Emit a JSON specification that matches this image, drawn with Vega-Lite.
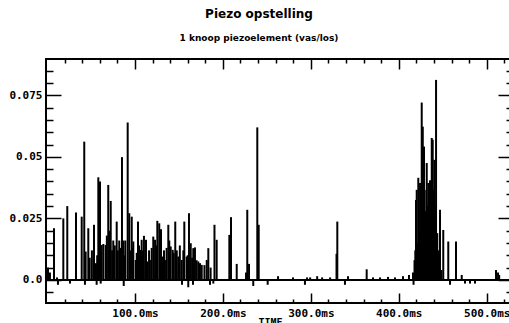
{
  "$schema": "https://vega.github.io/schema/vega-lite/v6.json",
  "width": 464,
  "height": 244,
  "autosize": "none",
  "padding": {"left": 46, "top": 59, "right": 0, "bottom": 20},
  "background": "white",
  "view": {"stroke": "black", "strokeWidth": 2},
  "title": {
    "text": "Piezo opstelling",
    "subtitle": "1 knoop piezoelement (vas/los)",
    "anchor": "middle",
    "dx": -19,
    "offset": 14,
    "font": "DejaVu Sans",
    "fontSize": 12,
    "fontWeight": "bold",
    "color": "black",
    "subtitleFont": "DejaVu Sans",
    "subtitleFontSize": 9,
    "subtitleFontWeight": "bold",
    "subtitleColor": "black",
    "subtitlePadding": 13
  },
  "config": {
    "axis": {
      "domain": false,
      "grid": false,
      "tickColor": "black",
      "tickWidth": 1.5,
      "labelColor": "black",
      "labelFont": "DejaVu Sans Mono",
      "labelFontWeight": "bold",
      "labelFontSize": 11,
      "titleColor": "black",
      "titleFont": "DejaVu Sans Mono",
      "titleFontWeight": "bold",
      "titleFontSize": 10
    }
  },
  "data": {
    "values": [
      {"time": 1.1, "amp": 0.005}, {"time": 3.3, "amp": 0.003}, {"time": 7.9, "amp": 0.021}, {"time": 11.3, "amp": 0.001},
      {"time": 12.4, "amp": -0.002}, {"time": 18.5, "amp": 0.025}, {"time": 23.0, "amp": 0.030}, {"time": 26.1, "amp": -0.0015},
      {"time": 32.9, "amp": 0.0274}, {"time": 39.4, "amp": 0.0257}, {"time": 42.3, "amp": 0.0562}, {"time": 43.1, "amp": -0.002},
      {"time": 43.9, "amp": 0.0115}, {"time": 46.9, "amp": 0.021}, {"time": 48.5, "amp": 0.009}, {"time": 51.0, "amp": 0.012},
      {"time": 53.4, "amp": 0.0224}, {"time": 55.6, "amp": 0.0068}, {"time": 56.4, "amp": -0.002}, {"time": 57.0, "amp": 0.010},
      {"time": 58.3, "amp": 0.0417}, {"time": 60.2, "amp": 0.040}, {"time": 61.0, "amp": -0.0015}, {"time": 62.1, "amp": 0.0142},
      {"time": 64.0, "amp": 0.0146}, {"time": 66.7, "amp": 0.0142}, {"time": 68.0, "amp": 0.018}, {"time": 69.6, "amp": 0.0386},
      {"time": 71.0, "amp": 0.020}, {"time": 72.4, "amp": 0.0321}, {"time": 74.0, "amp": 0.012}, {"time": 75.3, "amp": 0.016},
      {"time": 77.0, "amp": 0.014}, {"time": 79.2, "amp": 0.0237}, {"time": 80.5, "amp": 0.012}, {"time": 82.1, "amp": 0.016},
      {"time": 84.0, "amp": 0.013}, {"time": 85.2, "amp": 0.0499}, {"time": 86.7, "amp": 0.016}, {"time": 87.2, "amp": -0.0025},
      {"time": 88.0, "amp": 0.010}, {"time": 89.0, "amp": 0.016}, {"time": 91.7, "amp": 0.064}, {"time": 93.5, "amp": 0.0271},
      {"time": 95.0, "amp": 0.012}, {"time": 96.3, "amp": 0.0257}, {"time": 97.5, "amp": 0.013}, {"time": 98.1, "amp": 0.0156},
      {"time": 100.8, "amp": 0.0081}, {"time": 102.0, "amp": 0.011}, {"time": 103.4, "amp": 0.0237}, {"time": 104.6, "amp": 0.014},
      {"time": 105.7, "amp": 0.0122}, {"time": 107.6, "amp": 0.0163}, {"time": 109.0, "amp": 0.012}, {"time": 110.2, "amp": 0.0179},
      {"time": 112.5, "amp": 0.0163}, {"time": 114.0, "amp": 0.0075}, {"time": 116.0, "amp": 0.012}, {"time": 117.0, "amp": 0.0081},
      {"time": 119.0, "amp": 0.013}, {"time": 120.8, "amp": 0.0176}, {"time": 122.8, "amp": 0.0163}, {"time": 124.0, "amp": 0.014},
      {"time": 125.4, "amp": 0.024}, {"time": 127.6, "amp": 0.023}, {"time": 129.6, "amp": 0.0206}, {"time": 131.5, "amp": 0.0095},
      {"time": 133.0, "amp": 0.012}, {"time": 134.1, "amp": 0.0081}, {"time": 136.0, "amp": 0.013}, {"time": 137.9, "amp": 0.0224},
      {"time": 139.0, "amp": 0.016}, {"time": 140.6, "amp": 0.0136}, {"time": 142.9, "amp": 0.0122}, {"time": 144.0, "amp": 0.011},
      {"time": 145.8, "amp": 0.0237}, {"time": 147.5, "amp": 0.012}, {"time": 149.3, "amp": 0.0095}, {"time": 151.0, "amp": 0.014},
      {"time": 153.1, "amp": 0.0081}, {"time": 153.5, "amp": -0.002}, {"time": 155.0, "amp": 0.012}, {"time": 156.1, "amp": 0.0237},
      {"time": 158.8, "amp": 0.0095}, {"time": 160.0, "amp": 0.010}, {"time": 160.6, "amp": -0.003}, {"time": 161.4, "amp": 0.0271},
      {"time": 163.4, "amp": 0.0149}, {"time": 165.0, "amp": 0.009}, {"time": 166.0, "amp": -0.002}, {"time": 166.3, "amp": 0.0129},
      {"time": 168.2, "amp": 0.0132}, {"time": 170.0, "amp": 0.008}, {"time": 172.0, "amp": 0.0075}, {"time": 173.9, "amp": 0.0068},
      {"time": 175.9, "amp": 0.0061}, {"time": 179.0, "amp": 0.006}, {"time": 181.6, "amp": 0.0081}, {"time": 183.4, "amp": 0.0129},
      {"time": 185.3, "amp": -0.002}, {"time": 186.0, "amp": 0.005}, {"time": 189.1, "amp": -0.0015}, {"time": 190.4, "amp": 0.0224},
      {"time": 192.9, "amp": 0.0163}, {"time": 207.3, "amp": 0.0183}, {"time": 209.2, "amp": 0.0255}, {"time": 215.7, "amp": 0.0065},
      {"time": 226.3, "amp": 0.003}, {"time": 227.7, "amp": 0.0285}, {"time": 229.7, "amp": 0.0065}, {"time": 234.5, "amp": -0.0025},
      {"time": 239.1, "amp": 0.062}, {"time": 240.7, "amp": 0.0224}, {"time": 250.9, "amp": -0.002}, {"time": 262.7, "amp": 0.0015},
      {"time": 279.7, "amp": 0.001}, {"time": 293.3, "amp": -0.002}, {"time": 295.7, "amp": 0.001}, {"time": 299.2, "amp": 0.001},
      {"time": 307.2, "amp": 0.0015}, {"time": 312.8, "amp": 0.001}, {"time": 321.9, "amp": 0.001}, {"time": 329.2, "amp": 0.0106},
      {"time": 330.1, "amp": 0.0237}, {"time": 338.8, "amp": -0.002}, {"time": 342.3, "amp": 0.0015}, {"time": 363.5, "amp": 0.0043},
      {"time": 370.7, "amp": 0.001}, {"time": 378.7, "amp": 0.001}, {"time": 387.8, "amp": 0.0012}, {"time": 395.7, "amp": 0.001},
      {"time": 404.8, "amp": 0.0015}, {"time": 411.6, "amp": 0.002}, {"time": 416.2, "amp": 0.003}, {"time": 416.8, "amp": -0.002},
      {"time": 417.9, "amp": 0.008}, {"time": 418.8, "amp": 0.012}, {"time": 419.6, "amp": 0.0325}, {"time": 420.4, "amp": 0.0366},
      {"time": 421.3, "amp": 0.015}, {"time": 422.2, "amp": 0.0415}, {"time": 423.4, "amp": 0.020}, {"time": 424.2, "amp": 0.0394},
      {"time": 425.1, "amp": 0.030}, {"time": 426.1, "amp": 0.0721}, {"time": 427.3, "amp": 0.0623}, {"time": 428.0, "amp": 0.025},
      {"time": 428.7, "amp": 0.0542}, {"time": 429.5, "amp": 0.0366}, {"time": 430.2, "amp": 0.020}, {"time": 431.0, "amp": 0.028},
      {"time": 431.8, "amp": 0.0475}, {"time": 432.7, "amp": 0.030}, {"time": 433.6, "amp": 0.0394}, {"time": 434.6, "amp": 0.025},
      {"time": 435.5, "amp": 0.0405}, {"time": 436.4, "amp": 0.033}, {"time": 437.5, "amp": 0.0577}, {"time": 438.6, "amp": 0.057},
      {"time": 439.3, "amp": 0.0366}, {"time": 440.5, "amp": 0.0488}, {"time": 441.2, "amp": 0.030}, {"time": 442.4, "amp": 0.0813},
      {"time": 443.8, "amp": 0.019}, {"time": 445.0, "amp": 0.012}, {"time": 446.9, "amp": 0.0285}, {"time": 448.5, "amp": 0.004},
      {"time": 450.6, "amp": 0.0203}, {"time": 456.3, "amp": 0.0156}, {"time": 458.3, "amp": -0.002}, {"time": 465.1, "amp": 0.0156},
      {"time": 471.6, "amp": 0.002}, {"time": 475.3, "amp": -0.0015}, {"time": 481.0, "amp": -0.0015}, {"time": 486.7, "amp": -0.0015},
      {"time": 510.6, "amp": 0.004}, {"time": 512.9, "amp": 0.003}, {"time": 514.2, "amp": 0.002}
    ]
  },
  "resolve": {"axis": {"x": "independent", "y": "independent"}},
  "layer": [
    {
      "mark": {"type": "rule", "color": "black", "strokeWidth": 2},
      "encoding": {
        "x": {
          "field": "time", "type": "quantitative",
          "scale": {"domain": [-1.2, 526.5], "nice": false, "zero": false},
          "axis": {
            "orient": "bottom",
            "values": [20, 40, 60, 80, 100, 120, 140, 160, 180, 200, 220, 240, 260, 280, 300, 320, 340, 360, 380, 400, 420, 440, 460, 480, 500, 520],
            "labelExpr": "datum.value % 100 == 0 ? format(datum.value, '.1f') + 'ms' : ''",
            "tickSize": {"condition": {"test": "datum.value % 100 == 0", "value": -10}, "value": -4},
            "labelPadding": 14,
            "title": "TIME",
            "titleX": 224,
            "titleY": 14,
            "titleBaseline": "top"
          }
        },
        "y": {
          "field": "amp", "type": "quantitative",
          "scale": {"domain": [-0.0094, 0.0898], "nice": false, "zero": false},
          "axis": {
            "orient": "left",
            "values": [-0.005, 0, 0.005, 0.01, 0.015, 0.02, 0.025, 0.03, 0.035, 0.04, 0.045, 0.05, 0.055, 0.06, 0.065, 0.07, 0.075, 0.08, 0.085],
            "labelExpr": "datum.value == 0 ? '0.0' : datum.value == 0.025 ? '0.025' : datum.value == 0.05 ? '0.05' : datum.value == 0.075 ? '0.075' : ''",
            "tickSize": {"condition": {"test": "datum.value == 0 || datum.value == 0.025 || datum.value == 0.05 || datum.value == 0.075", "value": -15}, "value": -7},
            "labelPadding": 19,
            "title": null
          }
        },
        "y2": {"datum": 0}
      }
    },
    {
      "mark": {"type": "rule", "color": "black", "strokeWidth": 1},
      "encoding": {
        "x": {
          "datum": -1.2, "type": "quantitative",
          "axis": {
            "orient": "top",
            "values": [20, 40, 60, 80, 100, 120, 140, 160, 180, 200, 220, 240, 260, 280, 300, 320, 340, 360, 380, 400, 420, 440, 460, 480, 500, 520],
            "labels": false,
            "tickSize": {"condition": {"test": "datum.value % 100 == 0", "value": -10}, "value": -4},
            "title": null
          }
        },
        "x2": {"datum": 526.5},
        "y": {
          "datum": 0, "type": "quantitative",
          "axis": {
            "orient": "right",
            "values": [-0.005, 0, 0.005, 0.01, 0.015, 0.02, 0.025, 0.03, 0.035, 0.04, 0.045, 0.05, 0.055, 0.06, 0.065, 0.07, 0.075, 0.08, 0.085],
            "labels": false,
            "tickSize": {"condition": {"test": "datum.value == 0 || datum.value == 0.025 || datum.value == 0.05 || datum.value == 0.075", "value": -12}, "value": -4},
            "title": null
          }
        }
      }
    }
  ]
}
